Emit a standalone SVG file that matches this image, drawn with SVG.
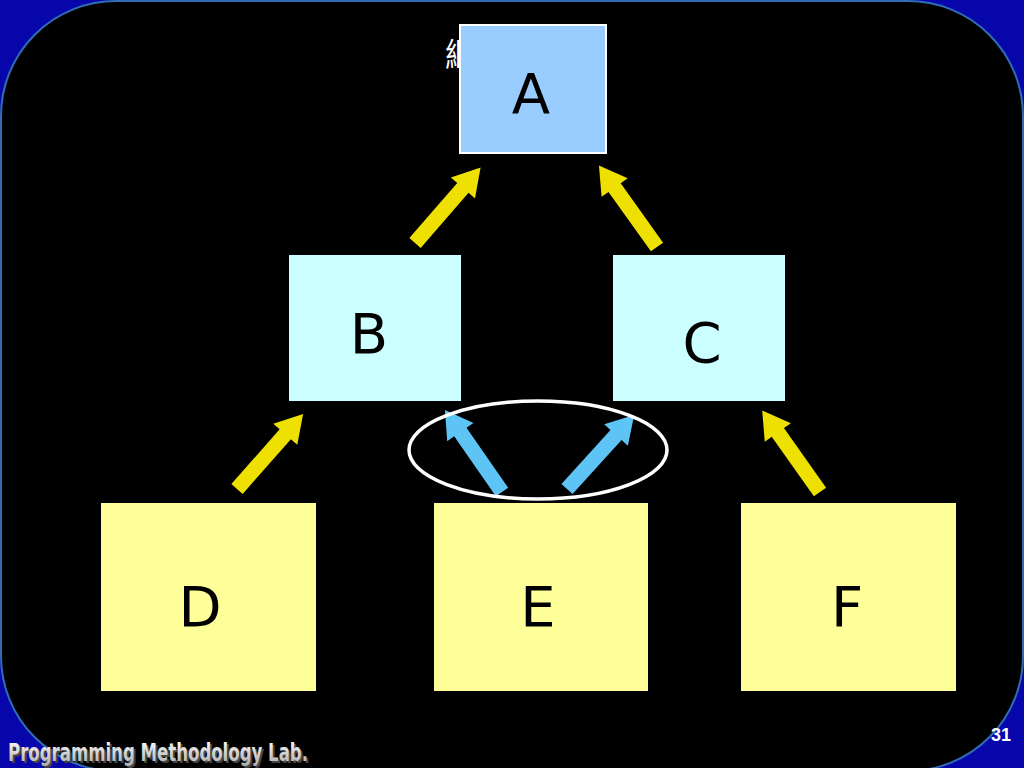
<svg xmlns="http://www.w3.org/2000/svg" xmlns:xlink="http://www.w3.org/1999/xlink" width="1024" height="768" viewBox="0 0 1024 768">
  <style>
    .lbl { font-family: "DejaVu Sans", Verdana, sans-serif; font-size: 56px; fill: #000; text-anchor: middle; }
    .yel { fill: #eee000; }
    .blu { fill: #5ec3f5; }
    .boxA { fill: #99ccff; stroke: #ffffff; stroke-width: 2; }
    .boxBC { fill: #ccffff; }
    .boxDEF { fill: #ffff99; }
    .foot { font-family: "DejaVu Sans Condensed", "DejaVu Sans", sans-serif; font-weight: bold; font-size: 24px; }
  </style>
  <defs>
    <path id="arr" d="M0,-7.5 H73 V-16 L100,0 L73,16 V7.5 H0 Z"/>
    <linearGradient id="lab" x1="0" y1="0" x2="0" y2="1">
      <stop offset="0" stop-color="#ffffff"/>
      <stop offset="1" stop-color="#a8a8a8"/>
    </linearGradient>
  </defs>

  <!-- background -->
  <rect x="0" y="0" width="1024" height="768" fill="#0606aa"/>
  <rect x="1" y="1" width="1022" height="770" rx="115" ry="115" fill="#000" stroke="#2f6db5" stroke-width="2"/>

  <!-- partially hidden title -->
  <text x="445" y="66" font-family="'Noto Sans CJK TC', 'Noto Sans CJK SC', sans-serif" font-size="32" fill="#ffffff">繼承</text>

  <g id="A">
    <rect class="boxA" x="460" y="25" width="146" height="128"/>
    <text class="lbl" x="531" y="113">A</text>
  </g>
  <g id="B">
    <rect class="boxBC" x="289" y="255" width="172" height="146"/>
    <text class="lbl" x="369" y="353">B</text>
  </g>
  <g id="C">
    <rect class="boxBC" x="613" y="255" width="172" height="146"/>
    <text class="lbl" x="702" y="362">C</text>
  </g>
  <g id="D">
    <rect class="boxDEF" x="101" y="503" width="215" height="188"/>
    <text class="lbl" x="200" y="626">D</text>
  </g>
  <g id="E">
    <rect class="boxDEF" x="434" y="503" width="214" height="188"/>
    <text class="lbl" x="538" y="626">E</text>
  </g>
  <g id="F">
    <rect class="boxDEF" x="741" y="503" width="215" height="188"/>
    <text class="lbl" x="847" y="626">F</text>
  </g>

  <g id="connectors">
    <use xlink:href="#arr" class="yel" transform="translate(415,243) rotate(-49)"/>
    <use xlink:href="#arr" class="yel" transform="translate(657,247) rotate(-125.5)"/>
    <use xlink:href="#arr" class="yel" transform="translate(237,489) rotate(-48.6)"/>
    <use xlink:href="#arr" class="yel" transform="translate(820,492) rotate(-125.3)"/>
    <use xlink:href="#arr" class="blu" transform="translate(502,492) rotate(-124.8)"/>
    <use xlink:href="#arr" class="blu" transform="translate(567,489) rotate(-47.8)"/>
    <ellipse cx="538" cy="450" rx="129" ry="49" fill="none" stroke="#ffffff" stroke-width="3.5"/>
  </g>

  <!-- footer -->
  <text class="foot" x="10" y="763" fill="#444" textLength="300" lengthAdjust="spacingAndGlyphs">Programming Methodology Lab.</text>
  <text class="foot" x="8" y="761" fill="url(#lab)" textLength="300" lengthAdjust="spacingAndGlyphs">Programming Methodology Lab.</text>
  <text x="1001" y="741" font-family="'Liberation Sans', Arial, sans-serif" font-weight="bold" font-size="18" fill="#ffffff" text-anchor="middle">31</text>
</svg>
